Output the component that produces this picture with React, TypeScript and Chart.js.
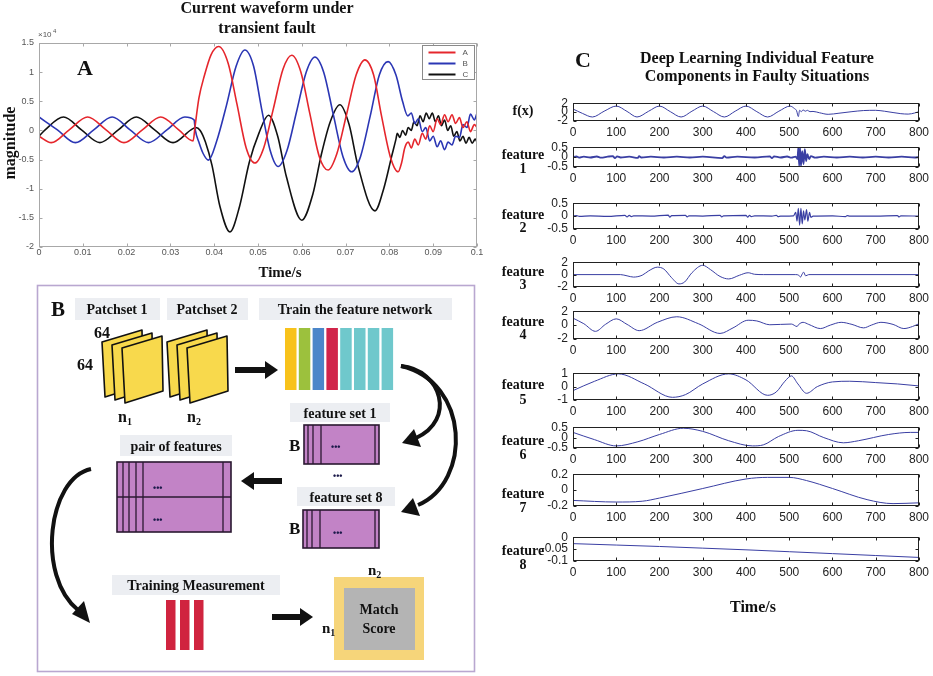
import React, { useEffect, useRef } from 'react';
import { Chart, registerables } from 'chart.js';

Chart.register(...registerables);

// ---------------- Panel A data (time in s, magnitude in units of 1e4) ----------------
const A_X_TICKS = [0, 0.01, 0.02, 0.03, 0.04, 0.05, 0.06, 0.07, 0.08, 0.09, 0.1];
const A_X_LABELS = ['0', '0.01', '0.02', '0.03', '0.04', '0.05', '0.06', '0.07', '0.08', '0.09', '0.1'];
const A_Y_TICKS = [-2, -1.5, -1, -0.5, 0, 0.5, 1, 1.5];
const A_Y_LABELS = ['-2', '-1.5', '-1', '-0.5', '0', '0.5', '1', '1.5'];
const SERIES_NAMES = ['A', 'B', 'C'];
const SERIES_COLORS = ['#e5262c', '#2b36b4', '#111111'];

const PHASE_A = [
  [0, -0.1], [0.0028, -0.21], [0.0069, 0.01], [0.0111, 0.23], [0.0153, 0.01], [0.0194, -0.21],
  [0.0236, 0.01], [0.0278, 0.23], [0.0319, 0.01], [0.0352, -0.18], [0.0356, 0.05], [0.0365, 0.55],
  [0.0378, 0.95], [0.0393, 1.3], [0.041, 1.44], [0.0432, 1.15], [0.0452, 0.45], [0.0473, -0.3],
  [0.0493, -0.56], [0.0513, -0.3], [0.0535, 0.37], [0.0557, 1.05], [0.0577, 1.29], [0.0598, 1.0],
  [0.0618, 0.3], [0.064, -0.45], [0.066, -0.68], [0.068, -0.4], [0.0702, 0.27], [0.0724, 0.95],
  [0.0744, 1.21], [0.0764, 0.95], [0.0782, 0.25], [0.0802, -0.45], [0.082, -0.71], [0.0828, -0.55],
  [0.0835, -0.3], [0.0843, -0.2], [0.085, -0.3], [0.0858, -0.15], [0.0866, -0.25], [0.0875, -0.05],
  [0.0883, -0.15], [0.0892, 0.08], [0.09, -0.02], [0.0909, 0.2], [0.0917, 0.1], [0.0926, 0.27],
  [0.0934, 0.15], [0.0943, 0.27], [0.0951, 0.12], [0.096, 0.22], [0.0968, 0.05], [0.0977, 0.15],
  [0.0985, -0.02], [0.0994, 0.1], [0.1, 0.05],
];
const PHASE_B = [
  [0, 0.23], [0.0042, 0.01], [0.0083, -0.21], [0.0125, 0.01], [0.0167, 0.23], [0.0208, 0.01],
  [0.025, -0.21], [0.0292, 0.01], [0.0333, 0.23], [0.0354, 0.18], [0.0357, 0.0], [0.0365, -0.2],
  [0.0375, -0.4], [0.0387, -0.51], [0.0405, -0.2], [0.0428, 0.43], [0.045, 1.1], [0.047, 1.38],
  [0.049, 1.1], [0.0508, 0.38], [0.0528, -0.35], [0.0546, -0.62], [0.0566, -0.35], [0.0588, 0.32],
  [0.061, 1.0], [0.063, 1.26], [0.065, 1.0], [0.0672, 0.27], [0.0694, -0.45], [0.0714, -0.71],
  [0.0734, -0.45], [0.0756, 0.24], [0.0777, 0.95], [0.0797, 1.18], [0.0815, 0.95], [0.083, 0.5],
  [0.0842, 0.25], [0.085, 0.3], [0.0858, 0.12], [0.0866, 0.2], [0.0875, -0.02], [0.0883, 0.05],
  [0.0892, -0.18], [0.09, -0.1], [0.0909, -0.28], [0.0917, -0.18], [0.0926, -0.33], [0.0934, -0.2],
  [0.0943, -0.25], [0.0951, -0.1], [0.096, -0.12], [0.0968, 0.1], [0.0977, 0.05], [0.0985, 0.28],
  [0.0994, 0.18], [0.1, 0.3],
];
const PHASE_C = [
  [0, -0.1], [0.0014, 0.01], [0.0056, 0.23], [0.0097, 0.01], [0.0139, -0.21], [0.0181, 0.01],
  [0.0222, 0.23], [0.0264, 0.01], [0.0306, -0.21], [0.0347, 0.01], [0.0358, 0.05], [0.0368, 0.0],
  [0.038, -0.2], [0.0395, -0.6], [0.0413, -1.3], [0.0436, -1.74], [0.0458, -1.3], [0.048, -0.55],
  [0.0502, -0.05], [0.0524, 0.26], [0.0545, -0.1], [0.0565, -0.8], [0.06, -1.54], [0.0625, -1.1],
  [0.0645, -0.4], [0.0665, 0.15], [0.0687, 0.44], [0.0708, 0.1], [0.0728, -0.6], [0.0767, -1.38],
  [0.0787, -1.0], [0.0805, -0.45], [0.0815, -0.15], [0.0818, -0.05], [0.0824, -0.12], [0.083, 0.0],
  [0.0837, -0.08], [0.0843, 0.05], [0.085, 0.0], [0.0856, 0.15], [0.0863, 0.08], [0.087, 0.25],
  [0.0877, 0.15], [0.0884, 0.3], [0.0891, 0.2], [0.0898, 0.3], [0.0905, 0.15], [0.0912, 0.25],
  [0.0919, 0.08], [0.0926, 0.18], [0.0933, 0.0], [0.094, 0.08], [0.0947, -0.1], [0.0954, -0.02],
  [0.0961, -0.18], [0.0968, -0.1], [0.0975, -0.22], [0.0982, -0.12], [0.0989, -0.22], [0.0996, -0.15],
  [0.1, -0.2],
];

// ---------------- Panel C data (sample index 0..800) ----------------
const C_X_TICKS = [0, 100, 200, 300, 400, 500, 600, 700, 800];
const C_ROW_NAMES = ['f(x)', 'feature 1', 'feature 2', 'feature 3', 'feature 4', 'feature 5', 'feature 6', 'feature 7', 'feature 8'];
const C_Y_TICKS = [
  [-2, 0, 2], [-0.5, 0, 0.5], [-0.5, 0, 0.5], [-2, 0, 2], [-2, 0, 2],
  [-1, 0, 1], [-0.5, 0, 0.5], [-0.2, 0, 0.2], [-0.1, -0.05, 0],
];
const C_Y_LABELS = [
  ['-2', '0', '2'], ['-0.5', '0', '0.5'], ['-0.5', '0', '0.5'], ['-2', '0', '2'], ['-2', '0', '2'],
  ['-1', '0', '1'], ['-0.5', '0', '0.5'], ['-0.2', '0', '0.2'], ['-0.1', '-0.05', '0'],
];

const FX = [
  [0, 0.7], [22, -0.3], [45, -1.1], [72, 0.2], [100, 1.35], [125, 0.15], [148, -1.1], [175, 0.2],
  [200, 1.35], [225, 0.1], [250, -1.1], [275, 0.2], [300, 1.35], [325, 0.1], [350, -1.1], [375, 0.2],
  [400, 1.35], [425, 0.1], [450, -1.1], [476, 0.2], [502, 1.35], [512, 0.8], [517, 0.3], [521, -1.0],
  [524, 0.4], [528, 0.1], [532, 0.5], [537, 0.2], [542, 0.4], [548, 0.1], [555, 0.15], [570, -0.15],
  [590, -0.5], [615, -0.25], [645, 0.1], [672, 0.35], [700, 0.4], [720, 0.2], [740, -0.1],
  [758, -0.35], [775, -0.45], [790, -0.2], [800, 0.1],
];
const FEATURE_1 = [
  [0, 0], [8, 0.03], [14, -0.03], [25, 0.02], [40, -0.02], [55, 0.03], [65, -0.03], [80, 0.02],
  [92, 0.05], [97, -0.05], [102, 0.04], [110, -0.02], [130, 0.02], [150, -0.04], [153, 0.05],
  [158, -0.02], [180, 0.02], [210, -0.02], [240, 0.02], [270, -0.02], [300, 0.02], [345, -0.05],
  [350, 0.05], [355, -0.03], [380, 0.02], [420, -0.02], [455, 0.04], [460, -0.05], [465, 0.04],
  [480, -0.02], [495, 0.03], [505, -0.03], [515, 0.02], [519, -0.1], [521, 0.5], [523, -0.45],
  [525, 0.48], [527, -0.45], [530, 0.3], [533, -0.35], [536, 0.4], [539, -0.2], [542, 0.15],
  [546, -0.1], [550, 0.05], [560, -0.03], [580, 0.02], [610, -0.02], [640, 0.02], [670, -0.02],
  [700, 0.02], [730, -0.02], [760, 0.02], [790, -0.02], [800, 0],
];
const FEATURE_2 = [
  [0, 0], [8, 0.02], [15, -0.01], [40, 0.01], [80, -0.01], [120, 0.03], [125, -0.03], [130, 0.03],
  [135, -0.02], [140, 0.01], [180, 0], [220, 0.04], [224, -0.04], [228, 0.02], [260, 0.03],
  [264, -0.03], [268, 0.01], [300, 0], [340, 0.03], [344, -0.03], [348, 0.01], [400, 0.03],
  [404, -0.04], [408, 0.03], [412, -0.02], [420, 0.01], [460, 0], [470, 0.03], [474, -0.02],
  [480, 0], [510, 0.01], [515, 0.15], [518, -0.2], [521, 0.3], [524, -0.35], [527, 0.3],
  [530, -0.3], [533, 0.2], [536, -0.15], [540, 0.25], [543, -0.2], [547, 0.15], [550, -0.05],
  [555, 0], [600, 0.01], [630, -0.02], [634, 0.02], [640, 0], [700, 0], [750, 0.02], [754, -0.03],
  [758, 0.01], [800, 0],
];
const FEATURE_3 = [
  [0, 0], [110, 0], [125, -0.2], [140, -0.4], [160, -0.1], [175, 0.6], [195, 1.2], [210, 0.9],
  [228, -0.5], [245, -1.5], [258, -1.2], [275, 0.3], [300, 1.5], [318, 0.8], [340, -0.3],
  [360, -0.7], [385, -0.1], [405, 0.3], [420, 0.05], [440, 0], [515, 0], [522, -0.1], [526, -0.4],
  [530, 0.1], [533, 0.4], [538, -0.2], [545, 0], [800, 0],
];
const FEATURE_4 = [
  [0, 1.0], [25, 0.2], [52, -0.9], [75, 0.1], [100, 0.9], [125, 0.1], [153, -0.8], [195, 0.4],
  [240, 1.2], [290, 0.2], [340, -1.2], [370, -0.4], [405, 0.7], [425, 0.6], [455, 0.05], [480, 0.1],
  [505, 0.15], [518, -0.2], [522, 0.1], [532, 0.4], [545, 0.1], [572, -0.5], [595, 0], [620, 0.4],
  [645, 0.1], [672, -0.4], [690, 0], [712, 0.4], [740, 0.1], [765, -0.5], [785, -0.2], [800, 0.2],
];
const FEATURE_5 = [
  [0, -0.3], [50, 0.4], [105, 0.95], [165, 0.2], [230, -0.8], [260, -0.6], [300, 0.2], [360, 0.95],
  [400, 0.5], [450, -0.65], [470, -0.4], [490, 0.4], [505, 0.8], [520, 0.2], [540, -0.5], [565, 0],
  [600, 0.35], [640, 0.4], [700, 0.3], [750, 0.2], [800, 0.05],
];
const FEATURE_6 = [
  [0, 0.25], [50, -0.1], [100, -0.4], [150, -0.2], [200, 0.15], [255, 0.45], [300, 0.3],
  [360, -0.15], [415, -0.4], [440, -0.35], [475, 0.05], [520, 0.35], [540, 0.33], [580, 0.0],
  [625, -0.25], [660, -0.15], [730, 0.15], [780, 0.25], [800, 0.25],
];
const FEATURE_7 = [
  [0, -0.13], [100, -0.15], [160, -0.14], [200, -0.1], [300, 0.02], [400, 0.14], [450, 0.16],
  [500, 0.16], [540, 0.12], [600, 0.02], [680, -0.12], [740, -0.17], [800, -0.16],
];
const FEATURE_8 = [
  [0, -0.027], [100, -0.033], [200, -0.039], [300, -0.046], [400, -0.053], [500, -0.061],
  [600, -0.069], [700, -0.077], [800, -0.085],
];
const C_SERIES = [FX, FEATURE_1, FEATURE_2, FEATURE_3, FEATURE_4, FEATURE_5, FEATURE_6, FEATURE_7, FEATURE_8];

// ---------------- layout / style ----------------
const SERIF = "'Liberation Serif','Times New Roman',serif";
const SANS = "'Liberation Sans',Arial,sans-serif";
const C_LINE = '#3a3fa3';
const C_FRAMES = [[99, 121], [143, 167], [199, 229], [258, 287], [307, 339], [369, 400], [423, 448], [470, 506], [533, 561]];
const C_LABEL_Y = [[110], [154, 168], [214, 227], [271, 284], [321, 334], [384, 399], [440, 454], [493, 507], [550, 564]];
const C_LINE_W = [1, 1.8, 1.2, 1, 1, 1, 1, 1, 1];

const framePlugin = {
  id: 'frame',
  afterDatasetsDraw(chart: any, _a: any, opts: any) {
    const { ctx, chartArea: ca } = chart;
    const xs = chart.scales.x;
    const ys = chart.scales.y;
    const L = opts.tick || 3;
    ctx.save();
    ctx.strokeStyle = opts.color || '#000';
    ctx.lineWidth = 1;
    const l = Math.round(ca.left) + 0.5;
    const t = Math.round(ca.top) + 0.5;
    const r = Math.round(ca.right) - 0.5;
    const b = Math.round(ca.bottom) - 0.5;
    ctx.strokeRect(l, t, r - l, b - t);
    ctx.beginPath();
    xs.ticks.forEach((tk: any) => {
      const px = Math.round(xs.getPixelForValue(tk.value)) + 0.5;
      ctx.moveTo(px, b); ctx.lineTo(px, b - L);
      ctx.moveTo(px, t); ctx.lineTo(px, t + L);
    });
    ys.ticks.forEach((tk: any) => {
      const py = Math.round(ys.getPixelForValue(tk.value)) + 0.5;
      ctx.moveTo(l, py); ctx.lineTo(l + L, py);
      ctx.moveTo(r, py); ctx.lineTo(r - L, py);
    });
    ctx.stroke();
    ctx.restore();
  },
};

const boxLegendPlugin = {
  id: 'boxLegend',
  afterDraw(chart: any) {
    const { ctx, chartArea } = chart;
    const w = 52;
    const h = 34;
    const x = Math.round(chartArea.right - w - 3) + 0.5;
    const y = Math.round(chartArea.top + 2) + 0.5;
    ctx.save();
    ctx.fillStyle = '#fff';
    ctx.fillRect(x, y, w, h);
    ctx.strokeStyle = '#8a8a8a';
    ctx.lineWidth = 1;
    ctx.strokeRect(x, y, w, h);
    chart.data.datasets.forEach((ds: any, i: number) => {
      const yy = y + 7 + i * 11;
      ctx.strokeStyle = ds.borderColor;
      ctx.lineWidth = 2;
      ctx.beginPath();
      ctx.moveTo(x + 6, yy);
      ctx.lineTo(x + 33, yy);
      ctx.stroke();
      ctx.fillStyle = '#555';
      ctx.font = `8px ${SANS}`;
      ctx.textBaseline = 'middle';
      ctx.fillText(ds.label, x + 40, yy);
    });
    ctx.restore();
  },
};

function toXY(arr: number[][]) {
  return arr.map(([x, y]) => ({ x, y }));
}

function panelAConfig() {
  const phases = [PHASE_A, PHASE_B, PHASE_C];
  return {
    type: 'line',
    data: {
      datasets: phases.map((p, i) => ({
        label: SERIES_NAMES[i],
        data: toXY(p),
        borderColor: SERIES_COLORS[i],
        borderWidth: 1.6,
        pointRadius: 0,
        cubicInterpolationMode: 'monotone',
        fill: false,
      })),
    },
    options: {
      animation: false,
      responsive: false,
      devicePixelRatio: 1,
      events: [],
      layout: { padding: { top: 43, right: 13, left: 0, bottom: 0 } },
      plugins: { legend: { display: false }, tooltip: { enabled: false }, frame: { color: '#a8a8a8', tick: 3 } },
      scales: {
        x: {
          type: 'linear', min: 0, max: 0.1,
          grid: { display: false, drawTicks: false }, border: { display: false },
          afterBuildTicks: (s: any) => { s.ticks = A_X_TICKS.map((v) => ({ value: v })); },
          afterFit: (s: any) => { s.height = 15; },
          ticks: {
            autoSkip: false, maxRotation: 0, padding: 0, color: '#555', font: { family: SANS, size: 9 },
            callback: (v: number) => A_X_LABELS[A_X_TICKS.indexOf(v)],
          },
        },
        y: {
          type: 'linear', min: -2, max: 1.5,
          grid: { display: false, drawTicks: false }, border: { display: false },
          afterBuildTicks: (s: any) => { s.ticks = A_Y_TICKS.map((v) => ({ value: v })); },
          afterFit: (s: any) => { s.width = 39; },
          ticks: {
            autoSkip: false, padding: 5, color: '#555', font: { family: SANS, size: 9 },
            callback: (v: number) => A_Y_LABELS[A_Y_TICKS.indexOf(v)],
          },
        },
      },
    },
    plugins: [framePlugin, boxLegendPlugin],
  };
}

function subplotConfig(i: number) {
  const ticks = C_Y_TICKS[i];
  const labels = C_Y_LABELS[i];
  return {
    type: 'line',
    data: {
      datasets: [{
        label: C_ROW_NAMES[i],
        data: toXY(C_SERIES[i]),
        borderColor: C_LINE,
        borderWidth: C_LINE_W[i],
        pointRadius: 0,
        cubicInterpolationMode: 'monotone',
        fill: false,
      }],
    },
    options: {
      animation: false,
      responsive: false,
      devicePixelRatio: 1,
      events: [],
      layout: { padding: { top: 8, right: 11, left: 0, bottom: 0 } },
      plugins: { legend: { display: false }, tooltip: { enabled: false }, frame: { color: '#222', tick: 3 } },
      scales: {
        x: {
          type: 'linear', min: 0, max: 800,
          grid: { display: false, drawTicks: false }, border: { display: false },
          afterBuildTicks: (s: any) => { s.ticks = C_X_TICKS.map((v) => ({ value: v })); },
          afterFit: (s: any) => { s.height = 18; },
          ticks: {
            autoSkip: false, maxRotation: 0, padding: 4, color: '#222', font: { family: SANS, size: 12 },
            callback: (v: number) => String(v),
          },
        },
        y: {
          type: 'linear', min: ticks[0], max: ticks[ticks.length - 1],
          grid: { display: false, drawTicks: false }, border: { display: false },
          afterBuildTicks: (s: any) => { s.ticks = ticks.map((v) => ({ value: v })); },
          afterFit: (s: any) => { s.width = 43; },
          ticks: {
            autoSkip: false, padding: 5, color: '#222', font: { family: SANS, size: 12 },
            callback: (v: number) => labels[ticks.indexOf(v)],
          },
        },
      },
    },
    plugins: [framePlugin],
  };
}

function ChartCanvas({ left, top, width, height, build }: any) {
  const ref = useRef<HTMLCanvasElement | null>(null);
  useEffect(() => {
    const chart = new Chart(ref.current as any, build() as any);
    return () => chart.destroy();
  }, []);
  return (
    <canvas
      ref={ref}
      width={width}
      height={height}
      style={{ position: 'absolute', left, top, width, height }}
    />
  );
}

const T: any = { fontFamily: SERIF, fontWeight: 'bold', fill: '#111' };

function Sheets({ x0, y0 }: { x0: number; y0: number }) {
  return (
    <g>
      {[0, 1, 2].map((k) => {
        const ox = x0 + 10 * k;
        const oy = y0 + 3 * k;
        const pts = `${ox},${oy + 12} ${ox + 40},${oy} ${ox + 41},${oy + 55} ${ox + 3},${oy + 67}`;
        return <polygon key={k} points={pts} fill="#f8d94c" stroke="#111" strokeWidth={1.6} strokeLinejoin="round" />;
      })}
    </g>
  );
}

function FeatureBox({ x, y, w, h, lines, dots }: any) {
  return (
    <g>
      <rect x={x} y={y} width={w} height={h} fill="#c283c6" stroke="#2a1830" strokeWidth={1.6} />
      {lines.map((lx: number, i: number) => (
        <line key={i} x1={lx} y1={y} x2={lx} y2={y + h} stroke="#2a1830" strokeWidth={1.3} />
      ))}
      {dots.map((d: number[], i: number) => (
        <text key={'d' + i} x={d[0]} y={d[1]} fontSize={9} fontFamily={SANS} fontWeight="bold" fill="#1c1a4a">•••</text>
      ))}
    </g>
  );
}

function Label({ x, y, w, h, text, cx, by }: any) {
  return (
    <g>
      <rect x={x} y={y} width={w} height={h} fill="#eceef2" />
      <text x={cx} y={by} textAnchor="middle" fontSize={14} {...T}>{text}</text>
    </g>
  );
}

function Overlay() {
  const barColors = ['#f8c21b', '#9cc13d', '#4b86c9', '#d1244a', '#6fc8cc', '#6fc8cc', '#6fc8cc', '#6fc8cc'];
  return (
    <svg width={933} height={676} style={{ position: 'absolute', left: 0, top: 0, pointerEvents: 'none' }}>
      {/* Panel A text */}
      <text x={267} y={13} textAnchor="middle" fontSize={16} {...T}>Current waveform under</text>
      <text x={267} y={33} textAnchor="middle" fontSize={16} {...T}>transient fault</text>
      <text x={77} y={75} fontSize={22} {...T}>A</text>
      <text x={0} y={0} transform="translate(15,143) rotate(-90)" textAnchor="middle" fontSize={16} {...T}>magnitude</text>
      <text x={280} y={277} textAnchor="middle" fontSize={15} {...T}>Time/s</text>
      <text x={38} y={37} fontSize={8} fontFamily={SANS} fill="#555">×10</text>
      <text x={53} y={33} fontSize={6} fontFamily={SANS} fill="#555">4</text>

      {/* Panel B */}
      <rect x={37.5} y={285.5} width={437} height={386} fill="none" stroke="#b9a7d0" strokeWidth={1.6} />
      <text x={51} y={316} fontSize={21} {...T}>B</text>
      <Label x={75} y={298} w={85} h={22} text="Patchset 1" cx={117} by={314} />
      <Label x={167} y={298} w={81} h={22} text="Patchset 2" cx={207} by={314} />
      <Label x={259} y={298} w={193} h={22} text="Train the feature network" cx={355} by={314} />
      <Sheets x0={102} y0={330} />
      <Sheets x0={167} y0={330} />
      <text x={94} y={338} fontSize={16} {...T}>64</text>
      <text x={77} y={370} fontSize={16} {...T}>64</text>
      <text x={118} y={422} fontSize={16} {...T}>n<tspan fontSize={10} dy={3}>1</tspan></text>
      <text x={187} y={422} fontSize={16} {...T}>n<tspan fontSize={10} dy={3}>2</tspan></text>
      {/* arrow patches -> features */}
      <rect x={235} y={367} width={32} height={6} fill="#111" />
      <polygon points="265,361 278,370 265,379" fill="#111" />
      {barColors.map((c, i) => (
        <rect key={i} x={285 + i * 13.8} y={328} width={11.5} height={62} fill={c} />
      ))}
      {/* curved arrows on the right */}
      <path d="M401 366 C 442 370, 456 420, 416 438" fill="none" stroke="#111" strokeWidth={4} />
      <polygon points="402,443 414,429 421,447" fill="#111" />
      <path d="M401 366 C 470 382, 472 482, 418 505" fill="none" stroke="#111" strokeWidth={4} />
      <polygon points="401,512 413,498 420,516" fill="#111" />
      <Label x={290} y={403} w={100} h={19} text="feature set 1" cx={340} by={418} />
      <text x={289} y={451} fontSize={17} {...T}>B</text>
      <FeatureBox x={304} y={425} w={75} h={39} lines={[308, 313, 321, 375]} dots={[[331, 450]]} />
      <text x={333} y={479} fontSize={9} fontFamily={SANS} fontWeight="bold" fill="#1c1a4a">•••</text>
      <Label x={297} y={487} w={98} h={19} text="feature set 8" cx={346} by={502} />
      <text x={289} y={534} fontSize={17} {...T}>B</text>
      <FeatureBox x={303} y={510} w={76} h={38} lines={[307, 312, 320, 375]} dots={[[333, 536]]} />
      {/* arrow to pair of features */}
      <rect x={252} y={478} width={30} height={6} fill="#111" />
      <polygon points="254,472 241,481 254,490" fill="#111" />
      <Label x={120} y={435} w={112} h={21} text="pair of features" cx={176} by={451} />
      <FeatureBox x={117} y={462} w={114} h={70} lines={[123, 129, 136, 143, 223]} dots={[[153, 491], [153, 523]]} />
      <line x1={117} y1={497} x2={231} y2={497} stroke="#2a1830" strokeWidth={1.6} />
      {/* left curved arrow */}
      <path d="M91 469 C 48 478, 36 576, 78 610" fill="none" stroke="#111" strokeWidth={4} />
      <polygon points="90,623 72,614 84,601" fill="#111" />
      <Label x={112} y={575} w={168} h={20} text="Training Measurement" cx={196} by={590} />
      {[166, 180, 194].map((x, i) => (
        <rect key={i} x={x} y={600} width={9.5} height={50} fill="#d0243f" />
      ))}
      <rect x={272} y={614} width={30} height={6} fill="#111" />
      <polygon points="300,608 313,617 300,626" fill="#111" />
      <rect x={334} y={577} width={90} height={83} fill="#f6d57a" />
      <rect x={344} y={588} width={71} height={62} fill="#b4b4b4" />
      <text x={379} y={614} textAnchor="middle" fontSize={14} {...T}>Match</text>
      <text x={379} y={633} textAnchor="middle" fontSize={14} {...T}>Score</text>
      <text x={368} y={575} fontSize={15} {...T}>n<tspan fontSize={10} dy={3}>2</tspan></text>
      <text x={322} y={633} fontSize={15} {...T}>n<tspan fontSize={10} dy={3}>1</tspan></text>

      {/* Panel C text */}
      <text x={575} y={67} fontSize={22} {...T}>C</text>
      <text x={757} y={63} textAnchor="middle" fontSize={16} {...T}>Deep Learning Individual Feature</text>
      <text x={757} y={81} textAnchor="middle" fontSize={16} {...T}>Components in Faulty Situations</text>
      {C_ROW_NAMES.map((name, i) => {
        const parts = name.split(' ');
        return parts.map((p, j) => (
          <text key={i + '-' + j} x={523} y={C_LABEL_Y[i][j]} textAnchor="middle" dominantBaseline="central" fontSize={14} {...T}>{p}</text>
        ));
      })}
      <text x={753} y={612} textAnchor="middle" fontSize={16} {...T}>Time/s</text>
    </svg>
  );
}

export default function App() {
  return (
    <div style={{ position: 'absolute', left: 0, top: 0, width: 933, height: 676, background: '#fff', overflow: 'hidden' }}>
      <ChartCanvas left={0} top={0} width={490} height={262} build={panelAConfig} />
      {C_FRAMES.map(([t, b], i) => (
        <ChartCanvas key={i} left={530} top={t - 8} width={403} height={b - t + 8 + 18} build={() => subplotConfig(i)} />
      ))}
      <Overlay />
    </div>
  );
}
